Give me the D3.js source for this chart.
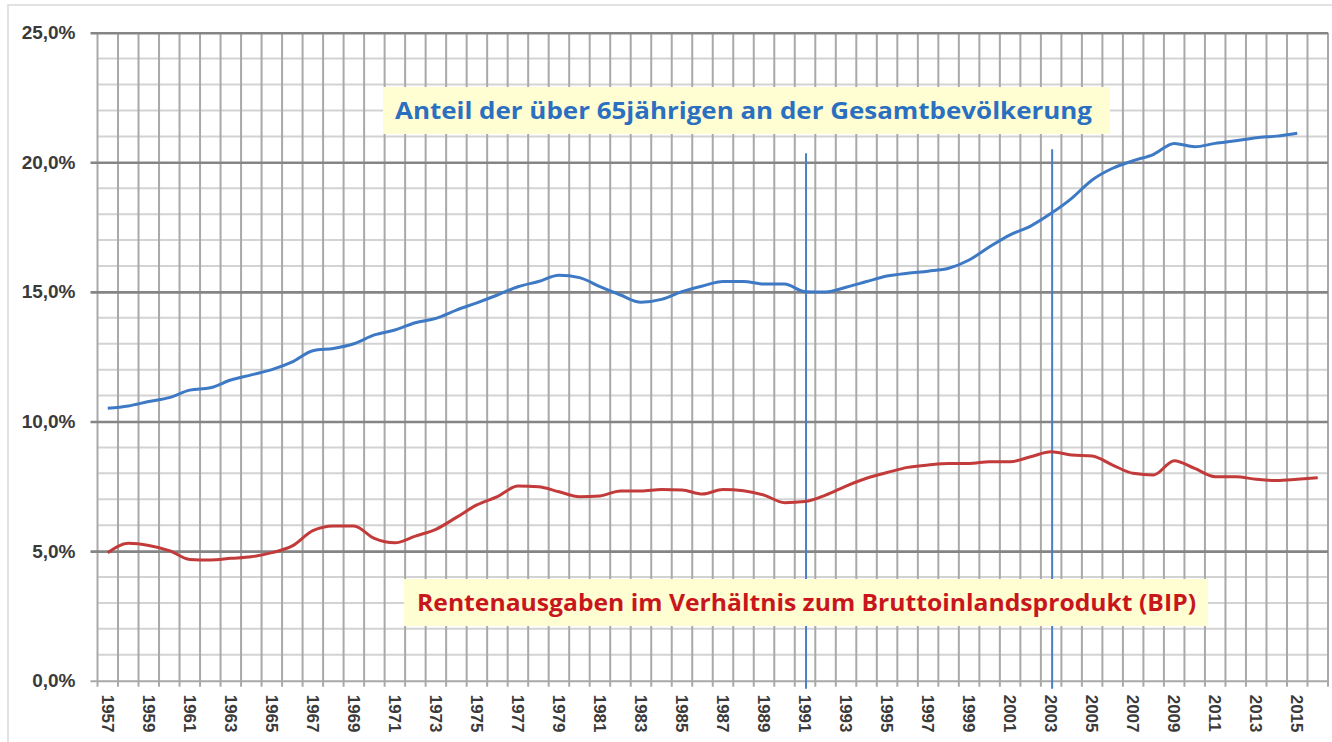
<!DOCTYPE html>
<html>
<head>
<meta charset="utf-8">
<script src="https://cdn.jsdelivr.net/npm/d3@7"></script>
<style>
  html, body { margin: 0; padding: 0; background: #fff; }
  svg { display: block; }
</style>
</head>
<body>
<main></main>
<script>
// categories: one per year
const years = d3.range(1957, 2017);
// Anteil der über 65jährigen (1957-2015), in %
const ageShare = [10.51, 10.6, 10.77, 10.92, 11.21, 11.3, 11.6, 11.8, 12.0, 12.3,
    12.73, 12.82, 13.0, 13.34, 13.53, 13.81, 13.98, 14.3, 14.58, 14.88,
    15.2, 15.4, 15.64, 15.55, 15.2, 14.88, 14.6, 14.71, 15.01, 15.23,
    15.4, 15.4, 15.3, 15.3, 15.01, 15.0, 15.18, 15.4, 15.61, 15.72,
    15.8, 15.91, 16.23, 16.74, 17.2, 17.54, 18.03, 18.61, 19.32, 19.77,
    20.06, 20.31, 20.73, 20.6, 20.73, 20.83, 20.95, 21.01, 21.12];
// Rentenausgaben / BIP (1957-2016), in %
const pensionShare = [4.94, 5.3, 5.22, 5.02, 4.68, 4.66, 4.72, 4.78, 4.94, 5.2,
    5.79, 5.97, 5.97, 5.49, 5.32, 5.58, 5.84, 6.3, 6.78, 7.1,
    7.51, 7.48, 7.29, 7.1, 7.13, 7.32, 7.32, 7.38, 7.36, 7.2,
    7.38, 7.33, 7.16, 6.87, 6.91, 7.16, 7.51, 7.81, 8.03, 8.23,
    8.32, 8.38, 8.38, 8.45, 8.45, 8.64, 8.83, 8.71, 8.67, 8.32,
    8.0, 7.94, 8.49, 8.19, 7.87, 7.87, 7.77, 7.72, 7.77, 7.83];
const yTicks = [0, 5, 10, 15, 20, 25];
const xTickYears = years.filter(y => y % 2 === 1);
const markerYears = [1991, 2003];
const markerTops = [20.35, 20.5];
const labelAge = "Anteil der über 65jährigen an der Gesamtbevölkerung";
const labelPension = "Rentenausgaben im Verhältnis zum Bruttoinlandsprodukt (BIP)";

const width = 1332, height = 742;
const plot = { left: 97.5, right: 1328, top: 32.7, bottom: 680.7 };

const blue = "#3d79c4";
const red = "#c23b3a";

const de = d3.formatLocale({ decimal: ",", thousands: ".", grouping: [3], currency: ["", " €"] });
const fmt = v => de.format(".1f")(v) + "%";

const svg = d3.select("main").append("svg").attr("width", width).attr("height", height);

svg.append("rect")
    .attr("x", 8).attr("y", 5).attr("width", 1340).attr("height", 780)
    .attr("fill", "#fff").attr("stroke", "#d9d9d9").attr("stroke-width", 1.5);

const x = d3.scaleBand().domain(years).range([plot.left, plot.right]).padding(0);
const y = d3.scaleLinear().domain([0, 25]).range([plot.bottom, plot.top]);
const cx = yr => x(yr) + x.bandwidth() / 2;

// minor horizontal grid (1%)
svg.append("g")
    .selectAll("line")
    .data(d3.range(1, 25).filter(v => v % 5 !== 0))
    .join("line")
    .attr("x1", plot.left).attr("x2", plot.right)
    .attr("y1", d => y(d)).attr("y2", d => y(d))
    .attr("stroke", "#d3d3d3").attr("stroke-width", 2);

// vertical grid at category boundaries
svg.append("g")
    .selectAll("line")
    .data(years.map(d => x(d)).concat([plot.right]))
    .join("line")
    .attr("x1", d => d).attr("x2", d => d)
    .attr("y1", plot.top).attr("y2", plot.bottom + 6)
    .attr("stroke", "#a9a9a9").attr("stroke-width", 2);

// major horizontal grid + y axis
const yAxis = svg.append("g")
    .attr("transform", `translate(${plot.left},0)`)
    .call(d3.axisLeft(y).tickValues(yTicks).tickFormat(fmt).tickSize(-(plot.right - plot.left)).tickPadding(22));
yAxis.select(".domain").remove();
yAxis.selectAll(".tick line")
    .attr("x1", -7)
    .attr("stroke", d => d === 0 ? "#a9a9a9" : "#858585")
    .attr("stroke-width", d => d === 0 ? 2 : 2.6);
yAxis.selectAll(".tick text")
    .attr("fill", "#3a3a3a")
    .style("font", "bold 19px 'Liberation Sans', Arial, sans-serif");

// x axis labels
const xAxis = svg.append("g")
    .attr("transform", `translate(0,${plot.bottom})`)
    .call(d3.axisBottom(x).tickValues(xTickYears).tickSize(0).tickPadding(0));
xAxis.select(".domain").remove();
xAxis.selectAll(".tick text")
    .attr("fill", "#3a3a3a")
    .attr("transform", "rotate(90)")
    .attr("x", 14).attr("y", 0).attr("dy", "0.36em")
    .attr("text-anchor", "start")
    .style("font", "bold 17px 'Liberation Sans', Arial, sans-serif");

// marker lines 1991 / 2003
svg.append("g")
    .selectAll("line")
    .data(markerYears.map((yr, i) => ({ yr, top: markerTops[i] })))
    .join("line")
    .attr("x1", d => cx(d.yr) + 1).attr("x2", d => cx(d.yr) + 1)
    .attr("y1", d => y(d.top)).attr("y2", plot.bottom + 8)
    .attr("stroke", "#4a7fc8").attr("stroke-width", 2);

// data lines
const line = d3.line()
    .x((d, i) => cx(years[i]))
    .y(d => y(d))
    .curve(d3.curveMonotoneX);

svg.append("path").datum(ageShare)
    .attr("d", line).attr("fill", "none")
    .attr("stroke", blue).attr("stroke-width", 3).attr("stroke-linejoin", "round");

svg.append("path").datum(pensionShare)
    .attr("d", line).attr("fill", "none")
    .attr("stroke", red).attr("stroke-width", 3).attr("stroke-linejoin", "round");

// annotation boxes
const boxes = [
    { text: labelAge, color: "#2b6fc0", x0: 383, x1: 1110, y0: 87, y1: 134, tx: 395, tw: 697 },
    { text: labelPension, color: "#c8161d", x0: 404, x1: 1208, y0: 579, y1: 626, tx: 417, tw: 779 }
];
const box = svg.append("g").selectAll("g").data(boxes).join("g");
box.append("rect")
    .attr("x", d => d.x0).attr("y", d => d.y0)
    .attr("width", d => d.x1 - d.x0).attr("height", d => d.y1 - d.y0)
    .attr("fill", "#fffdd2");
box.append("text")
    .attr("x", d => d.tx).attr("y", d => (d.y0 + d.y1) / 2)
    .attr("dy", "0.36em")
    .attr("fill", d => d.color)
    .attr("textLength", d => d.tw)
    .attr("lengthAdjust", "spacingAndGlyphs")
    .style("font", "bold 23px 'Open Sans', 'Liberation Sans', sans-serif")
    .text(d => d.text);
</script>
</body>
</html>
